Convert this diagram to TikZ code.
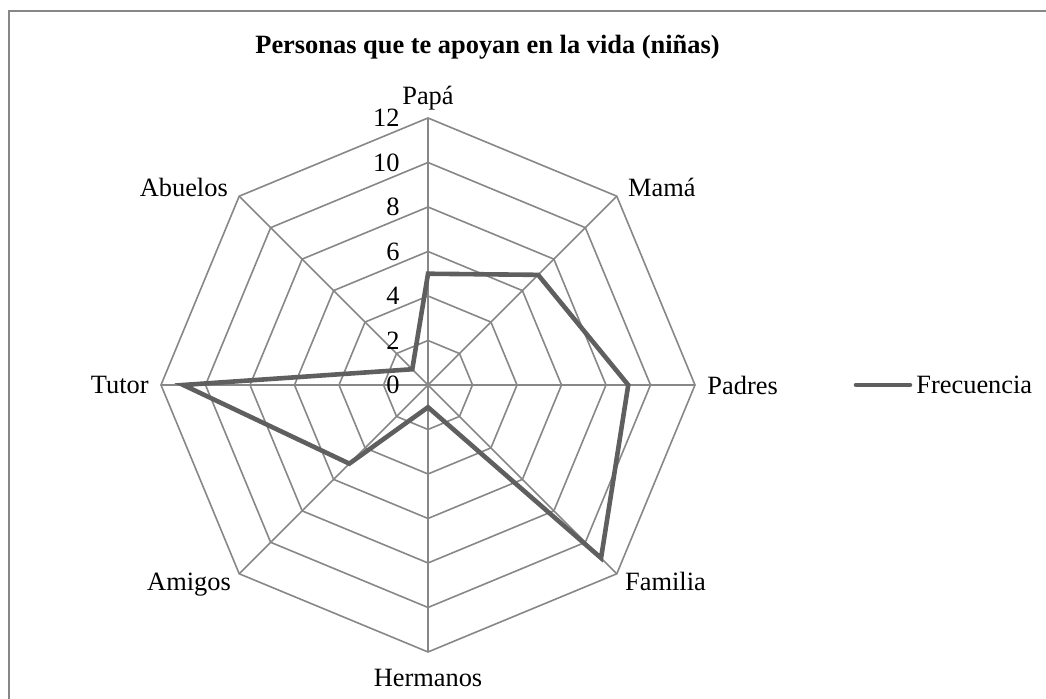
\documentclass[tikz,border=0pt]{standalone}
\usepackage{fontspec}
\setmainfont{Liberation Serif}
\usetikzlibrary{calc,positioning}

\definecolor{gridgray}{RGB}{135,135,135}
\definecolor{seriesgray}{RGB}{95,95,95}

% One octagon of the web, #1 = value on the scale.
\newcommand\RADARRING[1] {
    \pgfmathsetmacro{\rr}{#1*\unitlen}
    \draw[grid line] (90:\rr) \foreach \k in {1,...,7} { -- ({90-45*\k}:\rr) } -- cycle;
}

\begin{document}
\begin{tikzpicture}[x=0.5pt, y=0.5pt
    , every node/.style={font=\fontsize{13.2}{15}\selectfont, inner sep=1.5pt}
    , grid line/.style={draw=gridgray, line width=0.8pt}
    , series line/.style={draw=seriesgray, line width=2.3pt, line join=miter}
    ]
    \useasboundingbox (0,0) rectangle (1046,699);
    % Chart frame (runs past the right and bottom edge).
    \draw[gridgray, line width=0.8pt] (9,-30) rectangle (1080,688);

    \node[font=\fontsize{13.2}{15}\selectfont\bfseries, anchor=base] (title) at (487.5,645)
        {Personas que te apoyan en la vida (niñas)};

    \begin{scope}[shift={(428,314)}]
        \coordinate (c) at (0,0);
        \edef\rmax{267}
        \pgfmathsetmacro{\unitlen}{\rmax/12}
        % Web.
        \foreach \v in {2,4,...,12}
        {
            \RADARRING{\v}
        }
        \foreach \i in {1,2,...,8}
        {
            \pgfmathsetmacro\a{90-45*(\i-1)}
            \coordinate (v\i) at (\a:\rmax);
            \draw[grid line] (c) -- (v\i);
        }
        % Scale.
        \foreach \v in {0,2,...,12}
        {
            \node[anchor=east] (tick\v) at (-25,\v*\unitlen) {\v};
        }
        % Categories.
        \node[anchor=base] (papa) at ([yshift=6.5pt]v1) {Papá};
        \node[anchor=base west] (mama) at ([xshift=4pt]v2) {Mamá};
        \node[anchor=west] (padres) at ([xshift=4.5pt]v3) {Padres};
        \node[anchor=base west] (familia) at ([xshift=2.5pt,yshift=-8.5pt]v4) {Familia};
        \node[anchor=base] (hermanos) at ([yshift=-17.5pt]v5) {Hermanos};
        \node[anchor=base east] (amigos) at ([xshift=-2.5pt,yshift=-8.5pt]v6) {Amigos};
        \node[anchor=east] (tutor) at ([xshift=-4.5pt]v7) {Tutor};
        \node[anchor=base east] (abuelos) at ([xshift=-4pt]v8) {Abuelos};
        % Series.
        \foreach \val [count=\i] in {5,7,9,11,1,5,11,1}
        {
            \coordinate (d\i) at ({90-45*(\i-1)}:{\val*\unitlen});
        }
        \draw[series line] (d1) -- (d2) -- (d3) -- (d4) -- (d5) -- (d6) -- (d7) -- (d8) -- cycle;
    \end{scope}

    % Legend.
    \coordinate (leg start) at (856,314);
    \coordinate (leg end) at (910,314);
    \draw[series line, line cap=round] (leg start) -- (leg end);
    \node[anchor=west] (legend) at ([xshift=1.5pt]leg end) {Frecuencia};
\end{tikzpicture}
\end{document}
